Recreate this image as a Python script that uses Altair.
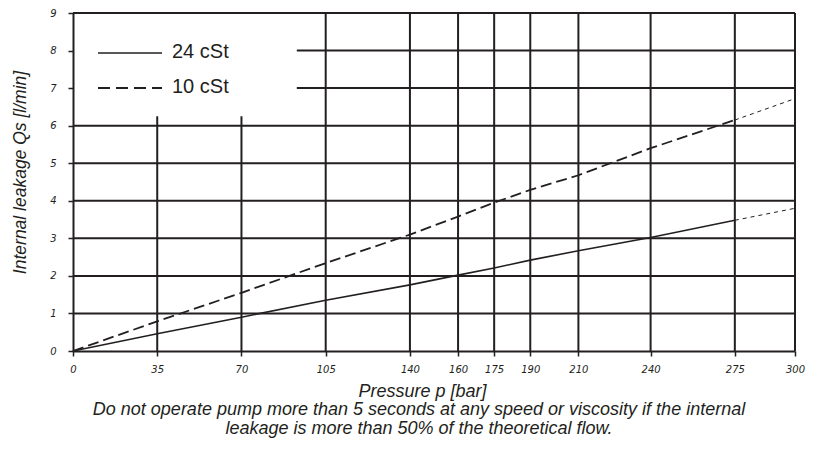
import altair as alt
import pandas as pd

# ---- data ----
pressure = [0, 35, 70, 105, 140, 160, 175, 190, 210, 240, 275]
leak_24cst = [0, 0.46, 0.90, 1.35, 1.76, 2.02, 2.21, 2.42, 2.67, 3.02, 3.48]
leak_10cst = [0, 0.79, 1.55, 2.34, 3.10, 3.58, 3.95, 4.29, 4.68, 5.40, 6.15]

pressure_ext = [275, 300]
leak_24cst_ext = [3.48, 3.80]
leak_10cst_ext = [6.15, 6.72]

x_ticks = [0, 35, 70, 105, 140, 160, 175, 190, 210, 240, 275, 300]
y_ticks = [0, 1, 2, 3, 4, 5, 6, 7, 8, 9]

# grid lines (values on the chart's own axes)
hgrid_y = [1, 2, 3, 4, 5, 6, 7, 8, 9]
hgrid_from = [0, 0, 0, 0, 0, 0, 93, 93, 0]
vgrid_x = [35, 70, 105, 140, 160, 175, 190, 210, 240, 275, 300]
vgrid_to = [6.25, 6.25, 9, 9, 9, 9, 9, 9, 9, 9, 9]

legend_labels = ["24 cSt", "10 cSt"]
x_title = "Pressure p [bar]"
y_title = "Internal leakage Qs [l/min]"
note = ["Do not operate pump more than 5 seconds at any speed or viscosity if the internal",
        "leakage is more than 50% of the theoretical flow."]

ink = "#231f20"
tfont = "Liberation Sans"

df_main = pd.DataFrame({"p": pressure, "q24": leak_24cst, "q10": leak_10cst})
df_ext = pd.DataFrame({"p": pressure_ext, "q24": leak_24cst_ext, "q10": leak_10cst_ext})
df_h = pd.DataFrame({"y": hgrid_y, "x0": hgrid_from, "x1": [300] * len(hgrid_y)})
df_v = pd.DataFrame({"x": vgrid_x, "y0": [0] * len(vgrid_x), "y1": vgrid_to})

xs = alt.Scale(domain=[0, 300], nice=False, zero=False)
ys = alt.Scale(domain=[0, 9], nice=False, zero=False)

x_axis = alt.Axis(values=x_ticks, grid=False, title=x_title, titleX=349, titleY=40,
                  titleBaseline="middle", titleAlign="center", titleFont=tfont,
                  titleFontStyle="italic", titleFontWeight="normal", titleFontSize=18,
                  titleColor=ink, labelFont="DejaVu Sans", labelFontStyle="italic",
                  labelFontSize=10, labelColor=ink, labelPadding=8, tickSize=5,
                  labelFlush=False, labelOverlap=False,
                  tickWidth=1.5, tickColor=ink, domainColor=ink, domainWidth=2)
y_axis = alt.Axis(values=y_ticks, grid=False, title=y_title, titleX=-53, titleY=159,
                  titleAngle=270, titleBaseline="middle", titleAlign="center",
                  titleFont=tfont, titleFontStyle="italic", titleFontWeight="normal",
                  titleFontSize=17.5, titleColor=ink, labelFont="DejaVu Sans",
                  labelFontStyle="italic", labelFontSize=10, labelColor=ink,
                  labelFlush=False, labelOverlap=False,
                  labelPadding=12, tickSize=5, tickWidth=1.5, tickColor=ink,
                  domainColor=ink, domainWidth=2)

X = lambda f: alt.X(f, scale=xs, axis=x_axis)
Y = lambda f: alt.Y(f, scale=ys, axis=y_axis)

hgrid = alt.Chart(df_h).mark_rule(color=ink, strokeWidth=2).encode(
    x=X("x0:Q"), x2="x1:Q", y=Y("y:Q"))
vgrid = alt.Chart(df_v).mark_rule(color=ink, strokeWidth=2).encode(
    x=X("x:Q"), y=Y("y0:Q"), y2="y1:Q")

line24 = alt.Chart(df_main).mark_line(color=ink, strokeWidth=1.6).encode(
    x=X("p:Q"), y=Y("q24:Q"))
line10 = alt.Chart(df_main).mark_line(color=ink, strokeWidth=1.8, strokeDash=[11, 5]).encode(
    x=X("p:Q"), y=Y("q10:Q"))
ext24 = alt.Chart(df_ext).mark_line(color=ink, strokeWidth=1, strokeDash=[4, 4]).encode(
    x=X("p:Q"), y=Y("q24:Q"))
ext10 = alt.Chart(df_ext).mark_line(color=ink, strokeWidth=1, strokeDash=[4, 4]).encode(
    x=X("p:Q"), y=Y("q10:Q"))

# custom legend
df_leg1 = pd.DataFrame({"label": [legend_labels[0]]})
df_leg2 = pd.DataFrame({"label": [legend_labels[1]]})
leg1_line = alt.Chart(df_leg1).mark_rule(color=ink, strokeWidth=1.6).encode(
    x=alt.value(25), x2=alt.value(89), y=alt.value(40))
leg2_line = alt.Chart(df_leg2).mark_rule(color=ink, strokeWidth=1.8, strokeDash=[12, 6]).encode(
    x=alt.value(25), x2=alt.value(89), y=alt.value(75))
leg1_text = alt.Chart(df_leg1).mark_text(align="left", baseline="middle", font=tfont,
                                         fontSize=20, color=ink).encode(
    x=alt.value(99), y=alt.value(39), text="label:N")
leg2_text = alt.Chart(df_leg2).mark_text(align="left", baseline="middle", font=tfont,
                                         fontSize=20, color=ink).encode(
    x=alt.value(99), y=alt.value(74), text="label:N")

df_note = pd.DataFrame({"t": ["\n".join(note)]})
note_text = alt.Chart(df_note).mark_text(align="center", baseline="middle", font=tfont,
                                         fontStyle="italic", fontSize=18, color=ink,
                                         lineBreak="\n", lineHeight=18.5).encode(
    x=alt.value(346), y=alt.value(397), text="t:N")

chart = alt.layer(
    hgrid, vgrid, line24, line10, ext24, ext10,
    leg1_line, leg2_line, leg1_text, leg2_text, note_text,
).properties(
    width=722, height=338,
    autosize=alt.AutoSizeParams(type="none"),
    padding={"left": 65, "top": 5, "right": 16, "bottom": 88},
    background="white",
).configure_view(strokeWidth=0)

chart.save("out.html", embed_options={"renderer": "svg", "actions": False})
